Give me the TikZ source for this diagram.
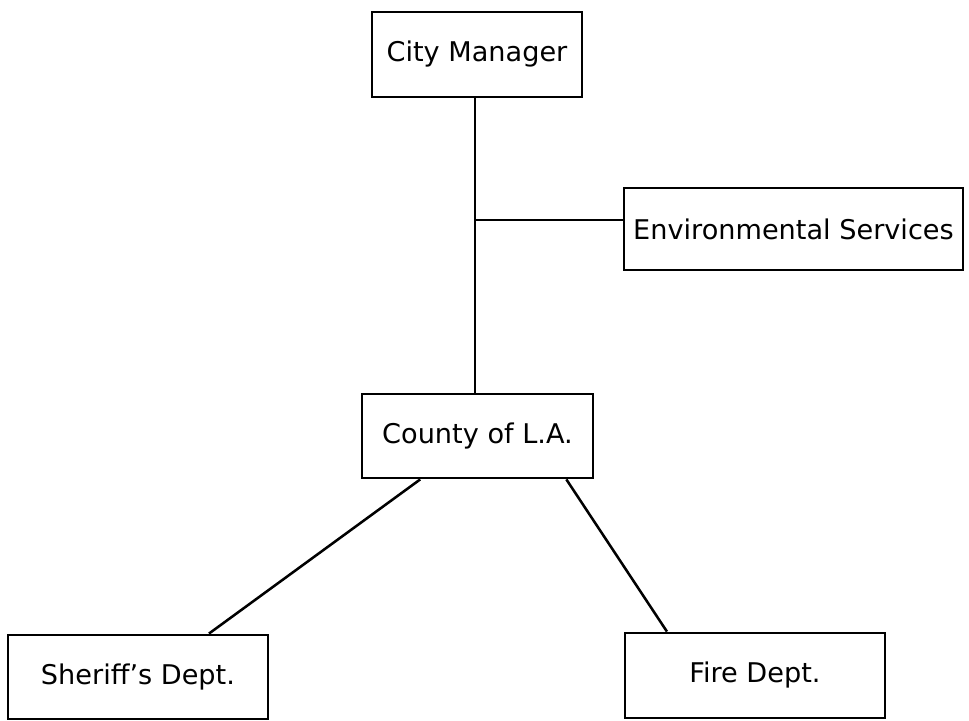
\documentclass[tikz,border=0pt]{standalone}
\usepackage{fontspec}
\setmainfont{DejaVu Sans}
\usetikzlibrary{calc}
\tikzset{
	unit/.style={draw, rectangle, line width=2pt, inner sep=0pt, font=\fontsize{19.3}{23}\selectfont}, % one box of the chart
	link/.style={line width=1.8pt},
}

\begin{document}
\begin{tikzpicture}[x=0.025cm,y=-0.025cm]
		% frame of the page
		\useasboundingbox (0,0) rectangle (969,721);
		
		% boxes
		\node[unit, minimum width=210*0.025cm, minimum height=85*0.025cm] (mgr) at (477,54.5) {City Manager};
		\node[unit, minimum width=339*0.025cm, minimum height=82*0.025cm] (env) at (793.5,229) {Environmental Services};
		\node[unit, minimum width=231*0.025cm, minimum height=84*0.025cm] (county) at (477.5,436) {County of L.A.};
		\node[unit, minimum width=260*0.025cm, minimum height=84*0.025cm] (sheriff) at (138,677) {Sheriff's Dept.};
		\node[unit, minimum width=260*0.025cm, minimum height=85*0.025cm] (fire) at (755,675.5) {Fire Dept.};
		
		% staff branch
		\coordinate (jn) at (475,220);
		
		% connectors
		\draw[link] (mgr.south -| jn) -- (county.north -| jn);
		\draw[link] (jn) -- (jn -| env.west);
		\draw[link] ($(county.south west)!0.255!(county.south east)$) -- ($(sheriff.north west)!0.77!(sheriff.north east)$);
		\draw[link] ($(county.south west)!0.88!(county.south east)$) -- ($(fire.north west)!0.165!(fire.north east)$);
		
\end{tikzpicture}
\end{document}
